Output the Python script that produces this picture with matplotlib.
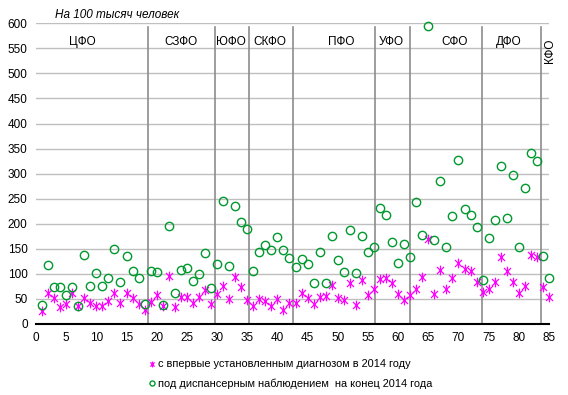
import numpy as np
import matplotlib.pyplot as plt
from matplotlib.path import Path

plt.rcParams['font.family'] = ['Liberation Sans', 'DejaVu Sans']

# regions numbered 1..85
region_no = list(range(1, 86))

# newly diagnosed in 2014, per 100k
new_cases = [26, 62, 52, 34, 40, 61, 35, 52, 42, 36,
             35, 46, 62, 42, 61, 52, 40, 28, 44, 58,
             36, 96, 33, 54, 54, 41, 54, 68, 40, 59,
             76, 50, 93, 74, 48, 35, 50, 46, 36, 50,
             28, 41, 42, 62, 52, 40, 54, 56, 78, 52,
             48, 81, 38, 88, 57, 69, 90, 92, 81, 60,
             48, 57, 69, 94, 169, 60, 107, 69, 92, 121,
             110, 106, 84, 64, 69, 83, 134, 105, 84, 62,
             76, 137, 134, 74, 53]

# under observation at end of 2014, per 100k
under_obs = [38, 118, 74, 74, 58, 74, 36, 138, 76, 102,
             76, 92, 150, 84, 136, 106, 92, 40, 106, 104,
             38, 195, 62, 108, 112, 86, 100, 142, 72, 120,
             246, 116, 235, 203, 189, 106, 143, 157, 148, 173,
             147, 132, 114, 130, 120, 82, 143, 82, 175, 128,
             104, 187, 102, 175, 143, 154, 232, 218, 164, 122,
             160, 134, 244, 178, 595, 168, 286, 154, 216, 328,
             230, 218, 194, 88, 172, 208, 316, 212, 298, 154,
             272, 342, 326, 136, 92]

districts = ['ЦФО', 'СЗФО', 'ЮФО', 'СКФО', 'ПФО', 'УФО', 'СФО', 'ДФО']
district_x = [7.6, 24.0, 32.3, 38.8, 50.5, 58.9, 69.4, 78.3]
borders = [18.5, 29.6, 35.3, 42.6, 56.1, 61.9, 73.9, 83.6]

# Excel-like star marker: x plus vertical bar
d = 0.72
star = Path([(0, -1), (0, 1), (-d, -d), (d, d), (-d, d), (d, -d)],
            [Path.MOVETO, Path.LINETO, Path.MOVETO, Path.LINETO, Path.MOVETO, Path.LINETO])

fig = plt.figure(figsize=(5.68, 3.95), dpi=100)
ax = fig.add_axes([36 / 568, 1 - 324 / 395, 513 / 568, 300.7 / 395])

ax.set_xlim(0, 85)
ax.set_ylim(0, 600)
ax.set_xticks(range(0, 86, 5))
ax.set_yticks(range(0, 601, 50))
ax.yaxis.grid(True, color='#BFBFBF', linewidth=1)
ax.set_axisbelow(True)
for s in ['top', 'right', 'left']:
    ax.spines[s].set_visible(False)
ax.spines['bottom'].set_linewidth(1.5)
ax.tick_params(axis='both', length=0, labelsize=8.5, pad=6)

for b in borders:
    ax.plot([b, b], [0, 592], color='#8C8C8C', linewidth=1.2, zorder=1)

ax.plot(region_no, new_cases, linestyle='none', marker=star, markersize=7,
        markerfacecolor='none', markeredgecolor='#FF00FF', markeredgewidth=0.9,
        label='с впервые установленным диагнозом в 2014 году', zorder=3, clip_on=False)
ax.plot(region_no, under_obs, linestyle='none', marker='o', markersize=6,
        markerfacecolor='none', markeredgecolor='#00992E', markeredgewidth=1.0,
        label='под диспансерным наблюдением  на конец 2014 года', zorder=3, clip_on=False)

for name, x in zip(districts, district_x):
    ax.text(x, 562, name, ha='center', va='center', fontsize=8.5)
ax.text(85.2, 546, 'КФО', ha='center', va='center', fontsize=8.5, rotation=90, clip_on=False)

fig.text(55 / 568, 1 - 15 / 395, 'На 100 тысяч человек', fontsize=8.5, style='italic',
         ha='left', va='center')

fig.legend(loc='upper left', bbox_to_anchor=(143 / 568, 1 - 354 / 395), frameon=False,
           fontsize=7.9, handlelength=0.6, handletextpad=0.25, borderpad=0,
           labelspacing=0.85, markerscale=0.6)

fig.savefig('out.png', dpi=100)
